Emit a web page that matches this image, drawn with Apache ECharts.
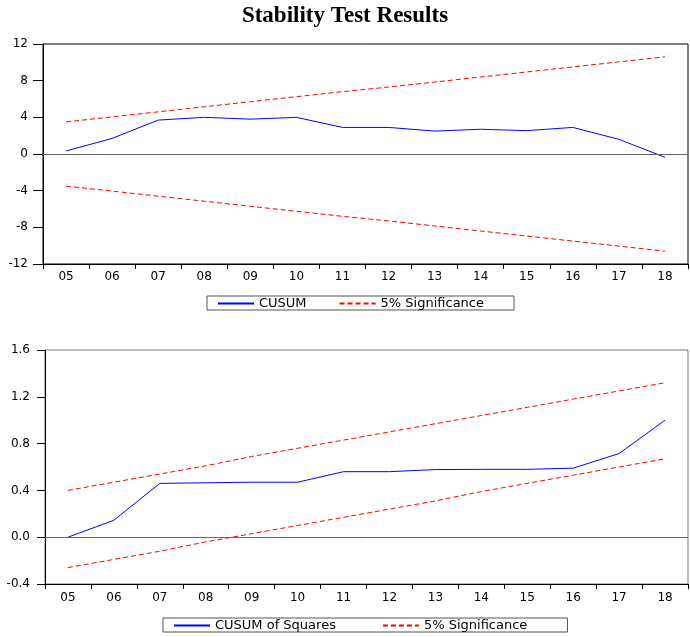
<!DOCTYPE html>
<html><head><meta charset="utf-8">
<script src="https://cdn.jsdelivr.net/npm/echarts@6/dist/echarts.min.js"></script>
<style>html,body{margin:0;padding:0;background:#fff}#c{width:690px;height:637px}</style>
</head><body><div id="c"></div>
<script>
const years = ['05','06','07','08','09','10','11','12','13','14','15','16','17','18'];
const cusum = [0.33,1.7,3.7,4.0,3.8,4.0,2.9,2.9,2.5,2.7,2.55,2.9,1.6,-0.36];
const cusumUpper = [3.5,4.05,4.6,5.15,5.7,6.25,6.8,7.3,7.85,8.4,8.95,9.5,10.05,10.6];
const cusumLower = [-3.5,-4.05,-4.6,-5.15,-5.7,-6.25,-6.8,-7.3,-7.85,-8.4,-8.95,-9.5,-10.05,-10.6];
const cusumSq = [0.0,0.145,0.46,0.465,0.47,0.47,0.56,0.56,0.578,0.58,0.58,0.59,0.715,1.0];
const sqUpper = [0.40,0.47,0.54,0.61,0.69,0.76,0.83,0.90,0.97,1.04,1.11,1.18,1.25,1.32];
const sqLower = [-0.26,-0.19,-0.12,-0.04,0.03,0.10,0.17,0.24,0.31,0.39,0.46,0.53,0.60,0.67];

const font = 'DejaVu Sans, Liberation Sans, Arial, sans-serif';
const BLUE = '#0000ff', RED = '#ff0000', DASH = [5,3];
const chart = echarts.init(document.getElementById('c'));
function xAxis(gi,margin){
  return {type:'category',gridIndex:gi,data:years,boundaryGap:true,
    axisLine:{onZero:false,lineStyle:{color:'#000',width:1}},
    axisTick:{show:true,length:5,lineStyle:{color:'#000'}},
    axisLabel:{color:'#000',fontSize:12,fontFamily:font,margin:margin},
    splitLine:{show:false}};
}
function yAxis(gi,min,max,interval,fmt,tick){
  return {type:'value',gridIndex:gi,min:min,max:max,interval:interval,
    axisLine:{show:true,lineStyle:{color:'#000',width:1}},
    axisTick:{show:true,length:tick,lineStyle:{color:'#000'}},
    axisLabel:{color:'#000',fontSize:12,fontFamily:font,margin:15,formatter:fmt},
    splitLine:{show:false}};
}
const zeroLine = {silent:true,symbol:'none',label:{show:false},lineStyle:{color:'#666',type:'solid',width:1},data:[{yAxis:0}]};
function line(name,data,gi,color,dashed,mark){
  const s = {name:name,type:'line',xAxisIndex:gi,yAxisIndex:gi,data:data,symbol:'none',showSymbol:false,
    lineStyle:{color:color,width:1,type:dashed?DASH:'solid'},itemStyle:{color:color},animation:false};
  if(mark) s.markLine = zeroLine;
  return s;
}
const legendBase = {orient:'horizontal',borderColor:'#555',borderWidth:1,
  itemWidth:36,itemHeight:9,itemStyle:{opacity:0},
  textStyle:{fontSize:13,fontFamily:font,color:'#000'}};
chart.setOption({
  animation:false,
  title:{text:'Stability Test Results',left:'center',top:0,
    textStyle:{fontFamily:'Liberation Serif, Times New Roman, serif',fontWeight:'bold',fontSize:23,color:'#000'}},
  grid:[
    {left:43,right:2,top:44,height:220,show:true,borderColor:'#000',borderWidth:1,backgroundColor:'transparent'},
    {left:45,right:2,top:350,height:234,show:true,borderColor:'#777',borderWidth:1,backgroundColor:'transparent'}
  ],
  xAxis:[xAxis(0,7),xAxis(1,8)],
  yAxis:[yAxis(0,-12,12,4,v=>String(v),10),yAxis(1,-0.4,1.6,0.4,v=>v.toFixed(1),8)],
  legend:[
    Object.assign({data:['CUSUM','5% Significance'],left:207,top:296,padding:[1,30,0,10],itemGap:32},legendBase),
    Object.assign({data:['CUSUM of Squares','5% Significance '],left:163,top:618,padding:[1,36,0,10],itemGap:46},legendBase)
  ],
  series:[
    line('CUSUM',cusum,0,BLUE,false,true),
    line('5% Significance',cusumUpper,0,RED,true),
    line('5% Significance',cusumLower,0,RED,true),
    line('CUSUM of Squares',cusumSq,1,BLUE,false,true),
    line('5% Significance ',sqUpper,1,RED,true),
    line('5% Significance ',sqLower,1,RED,true)
  ]
});
</script></body></html>
